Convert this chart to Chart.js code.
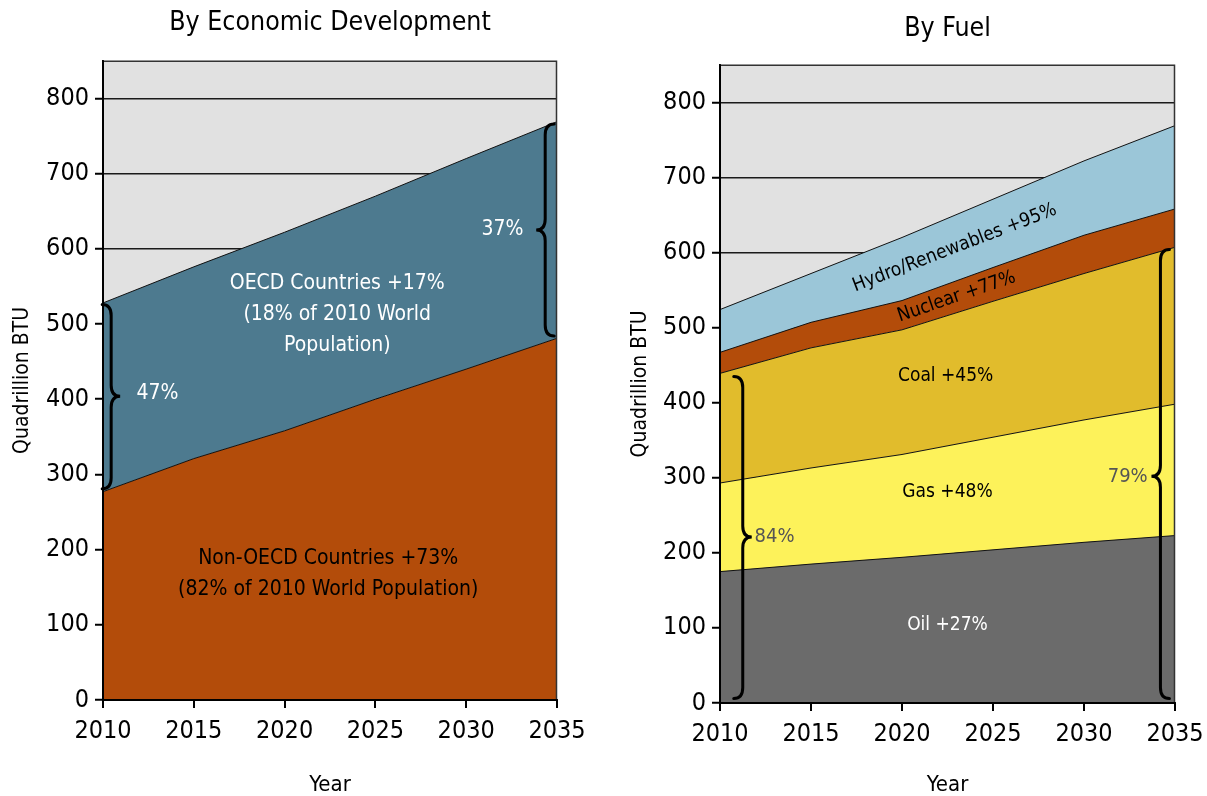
<!DOCTYPE html>
<html>
<head>
<meta charset="utf-8">
<script src="https://cdn.jsdelivr.net/npm/chart.js@4/dist/chart.umd.min.js"></script>
<style>
  html, body { margin: 0; padding: 0; background: #fff; }
  #wrap { position: relative; width: 1207px; height: 796px; overflow: hidden; }
  #leftChart { position: absolute; left: 0; top: 0; }
  #rightChart { position: absolute; left: 610px; top: 0; }
</style>
</head>
<body>
<div id="wrap">
  <canvas id="leftChart" width="600" height="796"></canvas>
  <canvas id="rightChart" width="597" height="796"></canvas>
</div>
<script>
const years = [2010, 2015, 2020, 2025, 2030, 2035];
const yTicks = [0, 100, 200, 300, 400, 500, 600, 700, 800];

// left: by economic development (quadrillion BTU)
const nonOecd = [277, 321, 358, 400, 440, 481];
const oecd = [251, 255, 264, 270, 280, 288];

// right: by fuel
const oil = [175, 185, 194, 204, 214, 223];
const gas = [118, 128, 137, 150, 163, 175];
const coal = [146, 160, 166, 181, 195, 209];
const nuclear = [28, 34, 39, 45, 51, 51];
const hydro = [57, 65, 84, 91, 99, 111];

const FONT = "'Liberation Sans Narrow', 'DejaVu Sans Condensed', 'Liberation Sans', sans-serif";

const toPoints = (arr) => arr.map((v, i) => ({ x: years[i], y: v }));

const area = (label, values, color, fill) => ({
  label,
  data: toPoints(values),
  backgroundColor: color,
  borderColor: '#111',
  borderWidth: 1,
  pointRadius: 0,
  tension: 0,
  fill
});

// grey plot background
const plotBg = {
  id: 'plotBg',
  beforeDraw(chart) {
    const { ctx, chartArea: a } = chart;
    ctx.save();
    ctx.fillStyle = '#e1e1e1';
    ctx.fillRect(a.left, a.top, a.right - a.left, a.bottom - a.top);
    ctx.restore();
  }
};

// frame around plot, redrawn above the areas
const frame = {
  id: 'frame',
  afterDatasetsDraw(chart) {
    const { ctx, chartArea: a } = chart;
    ctx.save();
    ctx.strokeStyle = '#333';
    ctx.lineWidth = 1.5;
    ctx.beginPath();
    ctx.moveTo(a.left, a.top + 0.5);
    ctx.lineTo(a.right - 0.5, a.top + 0.5);
    ctx.lineTo(a.right - 0.5, a.bottom);
    ctx.stroke();
    ctx.strokeStyle = '#000';
    ctx.lineWidth = 2;
    ctx.beginPath();
    ctx.moveTo(a.left, a.top);
    ctx.lineTo(a.left, a.bottom);
    ctx.lineTo(a.right, a.bottom);
    ctx.stroke();
    ctx.restore();
  }
};

function drawBrace(ctx, x, yTop, yBot, yTip, dir) {
  const r = 9 * dir;
  const v = 11;
  ctx.beginPath();
  ctx.moveTo(x - r, yTop);
  ctx.quadraticCurveTo(x, yTop, x, yTop + v);
  ctx.lineTo(x, yTip - v);
  ctx.quadraticCurveTo(x, yTip, x + r, yTip);
  ctx.quadraticCurveTo(x, yTip, x, yTip + v);
  ctx.lineTo(x, yBot - v);
  ctx.quadraticCurveTo(x, yBot, x - r, yBot);
  ctx.stroke();
}

// text labels and braces placed in data units
function notes(texts, braces) {
  return {
    id: 'notes',
    afterDatasetsDraw(chart) {
      const { ctx } = chart;
      const xs = chart.scales.x, ys = chart.scales.y;
      ctx.save();
      ctx.strokeStyle = '#000';
      ctx.lineWidth = 3;
      ctx.lineCap = 'round';
      braces.forEach(b => {
        drawBrace(ctx, xs.getPixelForValue(b.x), ys.getPixelForValue(b.top),
          ys.getPixelForValue(b.bottom), ys.getPixelForValue(b.tip), b.dir);
      });
      ctx.textAlign = 'center';
      ctx.textBaseline = 'middle';
      texts.forEach(t => {
        ctx.save();
        ctx.translate(xs.getPixelForValue(t.x), ys.getPixelForValue(t.y));
        if (t.angle) ctx.rotate(t.angle * Math.PI / 180);
        ctx.fillStyle = t.color;
        ctx.font = (t.size || 21) + 'px ' + FONT;
        const lines = [].concat(t.text);
        lines.forEach((ln, i) => {
          ctx.fillText(ln, 0, (i - (lines.length - 1) / 2) * 31);
        });
        ctx.restore();
      });
      ctx.restore();
    }
  };
}

function makeOptions(title, titlePad, yWidth, yTitlePad, xHeight, rightPad) {
  return {
    responsive: false,
    animation: false,
    devicePixelRatio: 1,
    layout: { padding: { left: 0, right: rightPad, top: 0, bottom: 0 } },
    plugins: {
      legend: { display: false },
      tooltip: { enabled: false },
      title: {
        display: true,
        fullSize: false,
        text: title,
        color: '#000',
        font: { family: FONT, size: 26.5, weight: 'normal', lineHeight: 1.2 },
        padding: titlePad
      }
    },
    scales: {
      x: {
        type: 'linear',
        min: 2010,
        max: 2035,
        afterFit: (s) => {
          s.height = xHeight;
          s.paddingLeft = 0;
          s.paddingRight = 0;
        },
        ticks: {
          stepSize: 5,
          includeBounds: false,
          color: '#000',
          padding: 8,
          font: { family: FONT, size: 25 },
          callback: (v) => String(v)
        },
        grid: { drawOnChartArea: false, drawTicks: true, tickLength: 8, color: '#000', lineWidth: 2 },
        border: { display: true, color: '#000', width: 2 },
        title: {
          display: true,
          text: 'Year',
          color: '#000',
          font: { family: FONT, size: 22, lineHeight: 1 },
          padding: { top: 0, bottom: 0 }
        }
      },
      y: {
        stacked: true,
        min: 0,
        max: 850,
        afterFit: (s) => { s.width = yWidth; },
        afterBuildTicks: (s) => { s.ticks = yTicks.map(v => ({ value: v })); },
        ticks: {
          color: '#000',
          padding: 6,
          font: { family: FONT, size: 25 }
        },
        grid: { color: '#1a1a1a', lineWidth: 1.5, drawTicks: true, tickLength: 8, tickColor: '#000', tickWidth: 2 },
        border: { display: true, color: '#000', width: 2 },
        title: {
          display: true,
          text: 'Quadrillion BTU',
          color: '#000',
          font: { family: FONT, size: 21, lineHeight: 1.2 },
          padding: { top: yTitlePad, bottom: 0 }
        }
      }
    }
  };
}

new Chart(document.getElementById('leftChart'), {
  type: 'line',
  data: {
    datasets: [
      area('Non-OECD Countries', nonOecd, '#b34c0a', 'origin'),
      area('OECD Countries', oecd, '#4d7a8f', '-1')
    ]
  },
  options: makeOptions('By Economic Development', { top: 7, bottom: 22 }, 103, 10, 96, 43),
  plugins: [plotBg, frame, notes([
    { text: ['OECD Countries +17%', '(18% of 2010 World', 'Population)'], x: 2022.9, y: 512, color: '#fff' },
    { text: ['Non-OECD Countries +73%', '(82% of 2010 World Population)'], x: 2022.4, y: 167, color: '#000' },
    { text: '47%', x: 2013.0, y: 408, color: '#fff' },
    { text: '37%', x: 2032.0, y: 626, color: '#fff' }
  ], [
    { x: 2010.45, top: 526, bottom: 281, tip: 404, dir: 1 },
    { x: 2034.35, top: 766, bottom: 484, tip: 625, dir: -1 }
  ])]
});

new Chart(document.getElementById('rightChart'), {
  type: 'line',
  data: {
    datasets: [
      area('Oil', oil, '#6b6b6b', 'origin'),
      area('Gas', gas, '#fdf25a', '-1'),
      area('Coal', coal, '#e1bc2c', '-1'),
      area('Nuclear', nuclear, '#b34c0a', '-1'),
      area('Hydro/Renewables', hydro, '#9bc6d8', '-1')
    ]
  },
  options: makeOptions('By Fuel', { top: 13, bottom: 20 }, 110, 18, 93, 32),
  plugins: [plotBg, frame, notes([
    { text: 'Hydro/Renewables +95%', x: 2022.9, y: 606, color: '#000', angle: -21, size: 19 },
    { text: 'Nuclear +77%', x: 2023.0, y: 541, color: '#000', angle: -19, size: 19 },
    { text: 'Coal +45%', x: 2022.4, y: 435, color: '#000', size: 19 },
    { text: 'Gas +48%', x: 2022.5, y: 281, color: '#000', size: 19 },
    { text: 'Oil +27%', x: 2022.5, y: 104, color: '#fff', size: 19 },
    { text: '84%', x: 2013.0, y: 221, color: '#555', size: 20 },
    { text: '79%', x: 2032.4, y: 301, color: '#555', size: 20 }
  ], [
    { x: 2011.25, top: 435, bottom: 6, tip: 221, dir: 1 },
    { x: 2034.2, top: 604, bottom: 6, tip: 302, dir: -1 }
  ])]
});
</script>
</body>
</html>
